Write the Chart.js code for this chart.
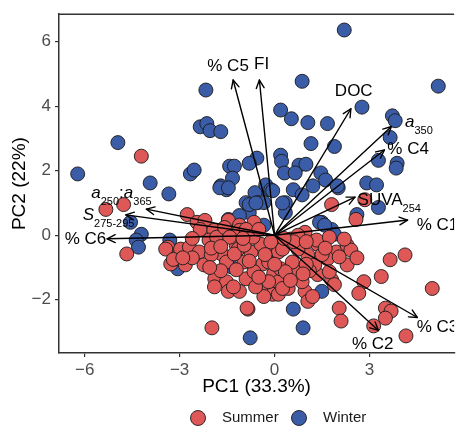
<!DOCTYPE html>
<html>
<head>
<meta charset="utf-8">
<script src="https://cdn.jsdelivr.net/npm/chart.js@4.4.1/dist/chart.umd.min.js"></script>
<style>
  html, body { margin: 0; padding: 0; background: #fff; overflow: hidden; }
</style>
</head>
<body>
<canvas id="pca" width="462" height="427"></canvas>
<script>
// PC scores
const summerX = [-4.21, -5.33, -4.77, -4.67, -2.76, -2.45, -2.20, -3.37, -2.35, -3.44, -2.97, -2.69, -2.38, -3.28, -2.82,
  -2.23, -1.92, -1.92, -1.67, -1.46, -1.21, -1.15, -1.52, -1.89, -1.52, -1.46, -1.11, -1.11, -0.96, -0.90, -0.74, -0.65,
  -0.43, -0.37, -0.37, -0.06, -0.84, -1.98, -0.12, -0.03, 1.80, 2.57, 0.96, 1.36, 1.95, 2.29, 2.41, 2.29, 1.67, 1.05,
  0.50, -0.03, 0.65, 0.12, 1.36, 1.80, 1.89, 0.96, 0.43, 0.12, 1.05, 2.04, 2.10, 2.82, 2.66, 3.37, 3.65, 4.12, 3.50,
  3.68, 3.50, 3.13, 4.15, 4.98, -0.87, -2.07, -1.83, -1.58, -1.42, -1.27, -0.96, -0.90, -0.68, -0.50, -0.65, -1.21,
  -1.11, -0.34, 0.25, 0.12, -0.19, 0.19, -0.12, 0.25, 0.74, 0.56, 0.34, 1.27, 0.87, -0.19, 0.74, 1.33, 1.73, 2.20,
  2.04, 1.73, 2.85, -3.20, -2.60, -2.00, -1.70, -1.30, -0.60, -1.90, 0.60, 1.00, 1.10, 1.50, 0.30, -0.30, -0.80, -2.05,
  -2.00, -2.60, -1.00, 0.00, 0.50, 1.00, 1.60, 2.60, -0.50, -1.70, 0.90, -2.90, 1.20];
const summerY = [2.45, 0.80, 0.95, -0.58, 0.64, 0.40, 0.46, -0.37, 0.18, -0.43, -0.43, -0.37, -0.52, -0.89, -0.92,
  -0.92, -0.15, 0.15, -0.58, 0.46, -0.31, -0.43, -0.83, -1.35, -1.44, -1.74, 0.31, 0.15, -0.83, -1.35, -0.52, 0.40,
  -0.28, -0.89, -1.59, -1.83, -2.29, -2.87, -0.58, -1.19, 0.95, 0.49, 0.09, -0.28, -0.52, -0.31, -0.46, -0.92, -0.73, -0.61,
  -0.12, -0.52, -1.13, -1.44, -1.22, -1.38, -1.53, -1.74, -1.65, -1.83, -2.05, -2.26, -2.66, -1.44, -1.80, -1.28, -0.76, -0.61, -2.26,
  -2.35, -2.57, -2.81, -3.12, -1.65, -2.26, -0.15, -0.06, 0.24, -0.06, -0.58, -0.31, 0.18, -0.06, 0.18, -1.13, -1.07,
  -1.74, -1.90, -1.65, -0.52, -0.83, -1.04, -0.21, -0.43, -0.43, -0.83, -1.13, -0.92, -1.44, -1.44, 0.00, -0.15, -0.06, -0.12,
  -0.67, -1.13, 1.10, -0.75, -0.70, -0.60, -1.10, -1.60, -1.60, -1.60, -0.20, -0.20, -1.10, -0.60, -0.10, -0.60, -0.80, -1.00,
  -0.40, -0.10, -0.10, -0.90, -1.40, -0.90, -0.40, -0.70, -1.30, -0.35, -1.20, -0.70, -1.90];

const winterX = [-6.22, -4.95, -3.93, -3.34, -2.66, -2.54, -2.17, -2.35, -2.14, -2.04, -1.70, -1.70, -1.52, -1.42, 2.20,
  5.17, 0.87, 2.76, 0.19, 0.53, 1.05, 1.67, 3.72, 3.81, 3.65, 1.15, 1.89, 3.28, 3.87, 3.84, -0.56, -0.80, 0.19, 0.22,
  0.77, 0.99, 0.31, 1.46, 1.61, -1.27, -1.33, 2.91, 3.22, 2.01, 1.21, 0.59, -0.25, -0.62, 0.65, -1.73, -1.46, -0.28,
  -0.12, 0.87, 1.98, -0.53, -0.90, -0.80, -0.34, 0.34, 0.34, -1.46, -0.34, 1.49, 1.80, 1.89, 2.60, 3.28, 1.42, 1.58,
  -4.55, -4.21, -4.37, -4.30, -3.31, -3.06, -1.36, 1.49, 0.59, 0.90, -0.77, -0.80, -0.59, -1.11, -0.06, 0.25];
const winterY = [1.90, 2.87, 1.62, 1.28, 1.90, 2.02, 4.50, 3.36, 3.46, 3.24, 3.21, 1.53, 1.41, 2.14, 6.36,
  4.62, 4.77, 3.97, 3.88, 3.61, 3.49, 3.46, 3.70, 3.55, 3.03, 2.84, 2.75, 2.32, 2.23, 2.08, 2.39, 2.23, 2.48, 2.29,
  2.17, 2.20, 1.93, 1.93, 1.71, 2.14, 1.77, 1.62, 1.56, 1.47, 1.53, 1.41, 1.41, 1.32, 1.93, 1.47, 1.47, 1.56,
  1.41, 1.25, 1.53, 1.01, 1.01, 0.70, 1.01, 1.01, 0.70, 0.49, 0.31, 0.40, 0.18, 0.03, 0.64, 0.86, 0.40, 0.31,
  0.40, 0.03, -0.15, -0.37, -0.15, -1.04, -0.98, -1.74, -2.29, -2.87, -3.18, 0.95, 1.00, 0.61, 1.38, 1.00];

// loadings (arrow tips) and where their labels sit
const loadingNames = ['% C5', 'FI', 'DOC', 'a350', '% C4', 'SUVA254', '% C1', '% C3', '% C2', 'a250:a365', 'S275-295', '% C6'];
const loadingX = [-1.31, -0.48, 2.41, 3.69, 3.47, 2.54, 4.20, 4.51, 3.28, -4.05, -4.70, -5.29];
const loadingY = [4.81, 4.81, 3.92, 3.37, 2.64, 1.18, 0.47, -2.55, -2.95, 0.81, 0.63, -0.11];
const labelX = [-1.47, -0.41, 2.50, 4.12, 3.56, 2.62, 4.49, 4.49, 3.10, -5.79, -6.06, -6.63];
const labelY = [5.24, 5.30, 4.47, 3.51, 2.67, 1.08, 0.32, -2.85, -3.37, 1.31, 0.63, -0.14];

const xTicks = [-6, -3, 0, 3];
const yTicks = [-2, 0, 2, 4, 6];

const FONT = "'Liberation Sans', Arial, Helvetica, sans-serif";

// rich text for the labels: [text, style] where style is '', 'i' or 'sub'
const labelParts = {
  'a350': [['a', 'i'], ['350', 'sub']],
  'SUVA254': [['SUVA', ''], ['254', 'sub']],
  'a250:a365': [['a', 'i'], ['250', 'sub'], [':', ''], ['a', 'i'], ['365', 'sub']],
  'S275-295': [['S', 'i'], ['275-295', 'sub']]
};
const centered = ['% C5', 'FI', 'DOC', '% C2'];

function partFont(p) {
  if (p[1] === 'sub') return '11px ' + FONT;
  return (p[1] === 'i' ? 'italic ' : '') + '17px ' + FONT;
}

function drawRich(ctx, parts, x, y, align) {
  let w = 0;
  parts.forEach(p => { ctx.font = partFont(p); w += ctx.measureText(p[0]).width; });
  let cx = align === 'center' ? x - w / 2 : x;
  parts.forEach(p => {
    ctx.font = partFont(p);
    ctx.fillText(p[0], cx, p[1] === 'sub' ? y + 9 : y);
    cx += ctx.measureText(p[0]).width;
  });
}

function arrow(ctx, x0, y0, x1, y1) {
  ctx.beginPath();
  ctx.moveTo(x0, y0);
  ctx.lineTo(x1, y1);
  ctx.stroke();
  const a = Math.atan2(y1 - y0, x1 - x0), L = 9, s = 0.45;
  ctx.beginPath();
  ctx.moveTo(x1 - L * Math.cos(a - s), y1 - L * Math.sin(a - s));
  ctx.lineTo(x1, y1);
  ctx.lineTo(x1 - L * Math.cos(a + s), y1 - L * Math.sin(a + s));
  ctx.stroke();
}

const biplot = {
  id: 'biplot',
  afterDatasetsDraw(chart) {
    const {ctx, chartArea, scales: {x, y}} = chart;
    ctx.save();
    ctx.beginPath();
    ctx.rect(chartArea.left, chartArea.top, chartArea.right - chartArea.left, chartArea.bottom - chartArea.top);
    ctx.clip();
    ctx.strokeStyle = '#000';
    ctx.lineWidth = 1.4;
    ctx.lineCap = 'round';
    ctx.lineJoin = 'round';
    const ox = x.getPixelForValue(0), oy = y.getPixelForValue(0);
    loadingX.forEach((v, i) => {
      arrow(ctx, ox, oy, x.getPixelForValue(v), y.getPixelForValue(loadingY[i]));
    });
    ctx.fillStyle = '#000';
    ctx.textBaseline = 'middle';
    ctx.textAlign = 'left';
    loadingNames.forEach((name, i) => {
      const parts = labelParts[name] || [[name, '']];
      drawRich(ctx, parts, x.getPixelForValue(labelX[i]), y.getPixelForValue(labelY[i]),
        centered.includes(name) ? 'center' : 'left');
    });
    ctx.restore();

    // top edge of the panel box
    ctx.save();
    ctx.strokeStyle = '#333';
    ctx.lineWidth = 1.5;
    ctx.beginPath();
    ctx.moveTo(chartArea.left, chartArea.top);
    ctx.lineTo(chartArea.right, chartArea.top);
    ctx.stroke();
    ctx.restore();
  },
  afterDraw(chart) {
    // legend below the x title
    const {ctx} = chart;
    const ys = 418;
    const spots = [198, 299];
    ctx.save();
    chart.data.datasets.forEach((ds, i) => {
      ctx.beginPath();
      ctx.arc(spots[i], ys, 7.5, 0, Math.PI * 2);
      ctx.fillStyle = ds.backgroundColor;
      ctx.fill();
      ctx.lineWidth = 0.9;
      ctx.strokeStyle = ds.borderColor;
      ctx.stroke();
      ctx.fillStyle = '#1a1a1a';
      ctx.font = '15px ' + FONT;
      ctx.textBaseline = 'middle';
      ctx.fillText(ds.label, spots[i] + 24, ys);
    });
    ctx.restore();
  }
};

const toPoints = (xs, ys) => xs.map((v, i) => ({x: v, y: ys[i]}));
const minus = v => String(v).replace('-', '\u2212');

new Chart(document.getElementById('pca'), {
  type: 'scatter',
  data: {
    datasets: [
      {
        label: 'Summer',
        data: toPoints(summerX, summerY),
        backgroundColor: '#DE5858',
        borderColor: '#1a1a1a',
        borderWidth: 0.9,
        pointRadius: 7,
        pointHoverRadius: 7
      },
      {
        label: 'Winter',
        data: toPoints(winterX, winterY),
        backgroundColor: '#3B5DA8',
        borderColor: '#1a1a1a',
        borderWidth: 0.9,
        pointRadius: 7,
        pointHoverRadius: 7
      }
    ]
  },
  options: {
    responsive: false,
    animation: false,
    layout: { padding: { top: 9, left: 0, right: 0, bottom: 0 } },
    plugins: {
      legend: { display: false },
      tooltip: { enabled: false }
    },
    scales: {
      x: {
        type: 'linear',
        min: -6.81,
        max: 5.67,
        afterBuildTicks: s => { s.ticks = xTicks.map(v => ({value: v})); },
        afterFit: s => { s.height = 74; },
        grid: { drawOnChartArea: false, drawTicks: true, tickLength: 4, color: '#333', lineWidth: 1.2 },
        border: { display: true, color: '#333', width: 1.5 },
        ticks: { color: '#4d4d4d', padding: 3, font: { family: FONT, size: 17 }, callback: minus },
        title: { display: true, text: 'PC1 (33.3%)', color: '#000', font: { family: FONT, size: 19 }, padding: { top: 0, bottom: 28.6 } }
      },
      y: {
        type: 'linear',
        min: -3.65,
        max: 6.85,
        afterBuildTicks: s => { s.ticks = yTicks.map(v => ({value: v})); },
        afterFit: s => { s.width = 59; },
        grid: { drawOnChartArea: false, drawTicks: true, tickLength: 4, color: '#333', lineWidth: 1.2 },
        border: { display: true, color: '#333', width: 1.5 },
        ticks: { color: '#4d4d4d', padding: 4, font: { family: FONT, size: 17 }, callback: minus },
        title: { display: true, text: 'PC2 (22%)', color: '#000', font: { family: FONT, size: 19 }, padding: { top: 8, bottom: 0 } }
      }
    }
  },
  plugins: [biplot]
});
</script>
</body>
</html>
